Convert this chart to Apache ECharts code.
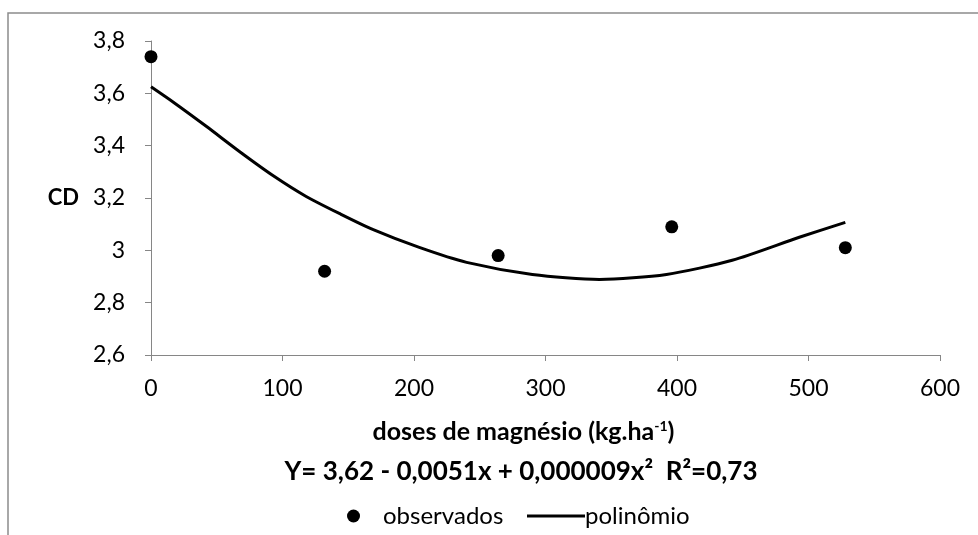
<!DOCTYPE html>
<html>
<head>
<meta charset="utf-8">
<script src="https://cdn.jsdelivr.net/npm/echarts@6/dist/echarts.min.js"></script>
<style>
  html, body { margin: 0; padding: 0; background: #fff; }
  #chart { width: 978px; height: 535px; }
</style>
</head>
<body>
<div id="chart"></div>
<script>
// observed values
const doses = [0, 132, 264, 396, 528];
const observados = [3.74, 2.92, 2.98, 3.09, 3.01];

// fitted curve
const curveX = [0, 17, 42, 68, 93, 118, 144, 169, 204, 240, 290, 341, 392, 442, 493, 528];
const curveY = [3.625, 3.566, 3.474, 3.375, 3.285, 3.206, 3.139, 3.079, 3.011, 2.954, 2.908, 2.889, 2.908, 2.962, 3.05, 3.107];

const equation = 'Y= 3,62 - 0,0051x + 0,000009x²  R²=0,73';
const font = 'Lato, "Open Sans", sans-serif';
const axisColor = '#868686';

const chart = echarts.init(document.getElementById('chart'));

chart.setOption({
  animation: false,
  grid: { left: 151, right: 38, top: 41, bottom: 180 },
  xAxis: {
    type: 'value',
    min: 0,
    max: 600,
    interval: 100,
    name: 'doses de magnésio (kg.ha{sup|-1})',
    nameLocation: 'middle',
    nameGap: 64,
    nameTextStyle: {
      fontFamily: font, fontSize: 25, fontWeight: 'bold', color: '#000',
      padding: [0, 44, 0, 0],
      rich: { sup: { fontFamily: font, fontSize: 14, fontWeight: 'bold', color: '#000', verticalAlign: 'top', padding: [0, 0, 10, 0] } }
    },
    axisLine: { lineStyle: { color: axisColor, width: 1 } },
    axisTick: { show: true, length: 6, lineStyle: { color: axisColor } },
    axisLabel: { margin: 22, fontFamily: font, fontSize: 23, color: '#000' },
    splitLine: { show: false }
  },
  yAxis: {
    type: 'value',
    min: 2.6,
    max: 3.8,
    interval: 0.2,
    name: 'CD',
    nameLocation: 'middle',
    nameRotate: 0,
    nameGap: 72,
    nameTextStyle: { fontFamily: font, fontSize: 22, fontWeight: 'bold', color: '#000' },
    axisLine: { show: true, lineStyle: { color: axisColor, width: 1 } },
    axisTick: { show: true, length: 6, lineStyle: { color: axisColor } },
    axisLabel: {
      margin: 26, fontFamily: font, fontSize: 23, color: '#000',
      formatter: v => String(Math.round(v * 10) / 10).replace('.', ',')
    },
    splitLine: { show: false }
  },
  legend: [
    {
      left: 342, top: 499,
      icon: 'circle', itemWidth: 13, itemHeight: 13, itemGap: 0,
      textStyle: { fontFamily: font, fontSize: 24, color: '#000', padding: [0, 0, 0, 18] },
      data: ['observados']
    },
    {
      left: 522, top: 499,
      icon: 'rect', itemWidth: 58, itemHeight: 3, itemGap: 0,
      textStyle: { fontFamily: font, fontSize: 24, color: '#000', padding: [0, 0, 0, -5] },
      data: ['polinômio']
    }
  ],
  graphic: [
    {
      type: 'rect', silent: true, z: -1,
      shape: { x: 8, y: 13, width: 1100, height: 600 },
      style: { fill: 'none', stroke: '#8c8c8c', lineWidth: 1.5 }
    },
    {
      type: 'text', x: 521, y: 459,
      style: { text: equation, align: 'center', verticalAlign: 'top', fontFamily: font, fontSize: 26, fontWeight: 'bold', fill: '#000' }
    }
  ],
  series: [
    {
      name: 'polinômio',
      type: 'line',
      smooth: 0.25,
      showSymbol: false,
      lineStyle: { color: '#000', width: 3 },
      itemStyle: { color: '#000' },
      data: curveX.map((x, i) => [x, curveY[i]])
    },
    {
      name: 'observados',
      type: 'scatter',
      symbolSize: 13,
      itemStyle: { color: '#000', opacity: 1 },
      data: doses.map((x, i) => [x, observados[i]])
    }
  ]
});
</script>
</body>
</html>
